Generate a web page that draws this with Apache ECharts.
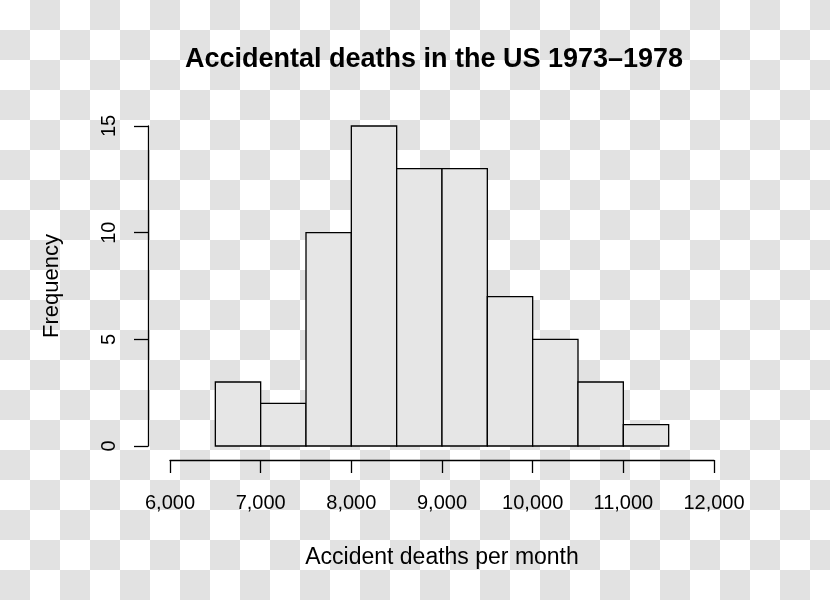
<!DOCTYPE html>
<html>
<head>
<meta charset="utf-8">
<script src="https://cdn.jsdelivr.net/npm/echarts@6/dist/echarts.min.js"></script>
<style>
html,body{margin:0;padding:0;}
body{width:830px;height:600px;background:repeating-conic-gradient(#e2e2e2 0 25%, #ffffff 0 50%) 0 0/60px 60px;}
#c{width:830px;height:600px;}
</style>
</head>
<body>
<div id="c"></div>
<script>
const binStarts = [6500, 7000, 7500, 8000, 8500, 9000, 9500, 10000, 10500, 11000];
const binEnds   = [7000, 7500, 8000, 8500, 9000, 9500, 10000, 10500, 11000, 11500];
const frequencies = [3, 2, 10, 15, 13, 13, 7, 5, 3, 1];
const xTicks = [6000, 7000, 8000, 9000, 10000, 11000, 12000];
const yTicks = [0, 5, 10, 15];

const chart = echarts.init(document.getElementById('c'), null, {renderer: 'canvas'});
const font = 'Liberation Sans, Arial, sans-serif';
const data = binStarts.map((s, i) => [s, binEnds[i], frequencies[i]]);

chart.setOption({
  backgroundColor: 'transparent',
  animation: false,
  title: {
    text: 'Accidental deaths in the US 1973\u20131978',
    left: 429, top: 41, textAlign: 'center',
    textStyle: {fontFamily: font, fontSize: 27, fontWeight: 'bold', color: '#000'}
  },
  grid: {left: 170, right: 116, top: 126, bottom: 154, containLabel: false},
  xAxis: {
    type: 'value', min: 6000, max: 12000, interval: 1000, offset: 14,
    name: 'Accident deaths per month', nameLocation: 'middle', nameGap: 86,
    nameTextStyle: {fontFamily: font, fontSize: 23, color: '#000'},
    axisLine: {show: true, onZero: false, lineStyle: {color: '#000', width: 1.3}},
    axisTick: {show: true, length: 13, lineStyle: {color: '#000', width: 1.3}},
    axisLabel: {margin: 33, fontFamily: font, fontSize: 20, color: '#000',
      formatter: v => v.toLocaleString('en-US')},
    splitLine: {show: false}
  },
  yAxis: {
    type: 'value', min: 0, max: 15, interval: 5, offset: 22,
    name: 'Frequency', nameLocation: 'middle', nameGap: 85,
    nameTextStyle: {fontFamily: font, fontSize: 22, color: '#000'},
    axisLine: {show: true, lineStyle: {color: '#000', width: 1.3}},
    axisTick: {show: true, length: 14, lineStyle: {color: '#000', width: 1.3}},
    axisLabel: {margin: 29, rotate: 90, fontFamily: font, fontSize: 20, color: '#000'},
    splitLine: {show: false}
  },
  series: [{
    type: 'custom',
    data: data,
    encode: {x: [0, 1], y: 2},
    renderItem: function (params, api) {
      const p0 = api.coord([api.value(0), 0]);
      const p1 = api.coord([api.value(1), api.value(2)]);
      return {
        type: 'rect',
        shape: {x: p0[0], y: p1[1], width: p1[0] - p0[0], height: p0[1] - p1[1]},
        style: {fill: '#e6e6e6', stroke: '#000', lineWidth: 1.3}
      };
    }
  }]
});
</script>
</body>
</html>
